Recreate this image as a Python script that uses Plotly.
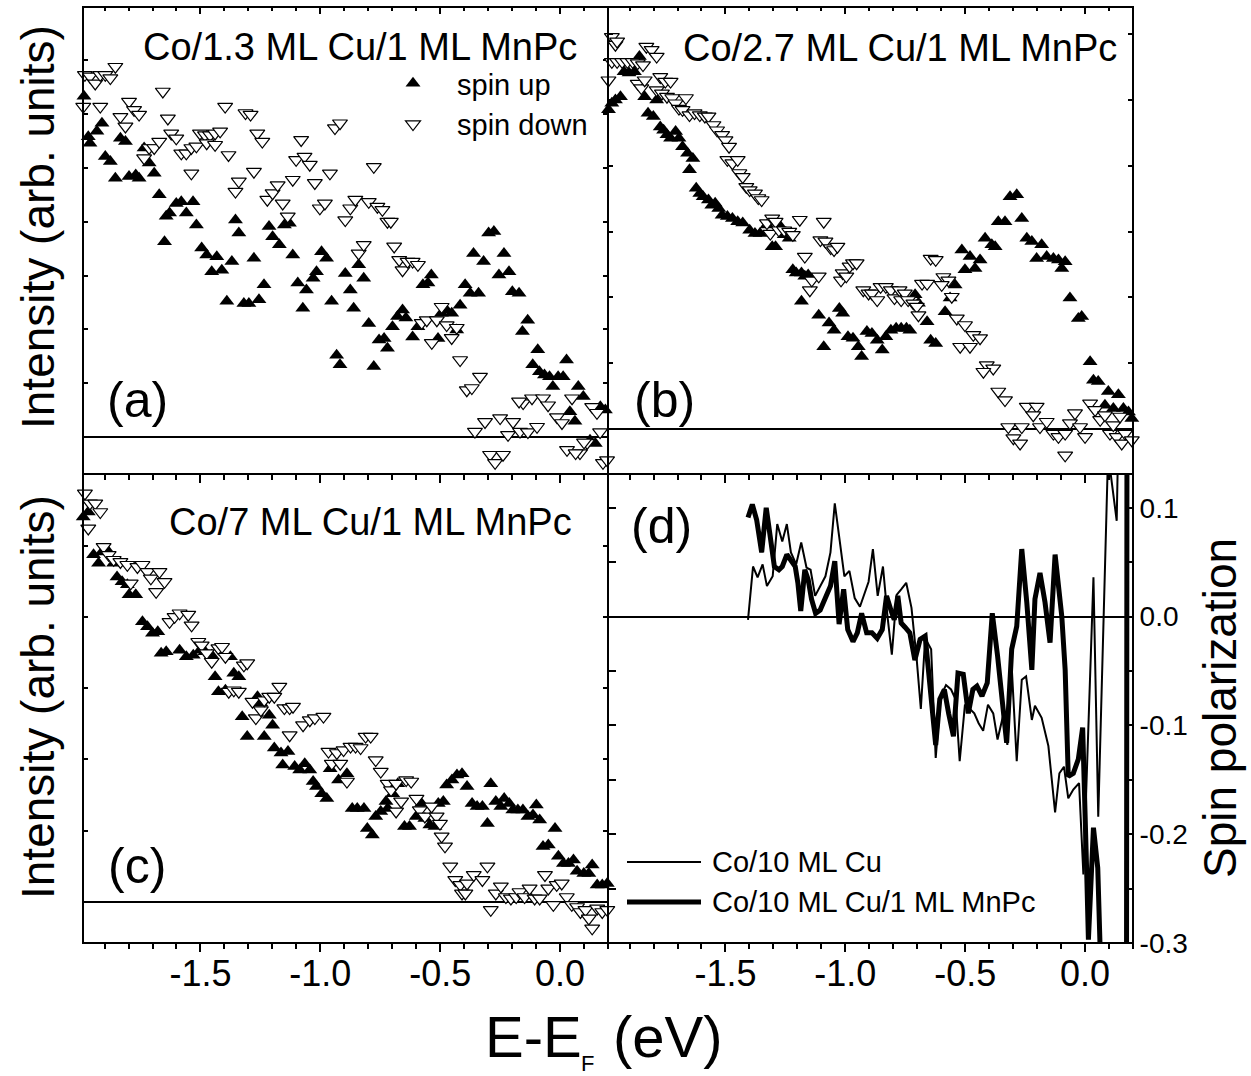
import plotly.graph_objects as go

FONT = "Liberation Sans, Arial, sans-serif"

# ---------------- data: (E - E_F [eV], intensity [arb. units]) ----------------
A_UP = [(-1.986, 6.33), (-1.968, 5.58), (-1.961, 5.46), (-1.932, 5.68), (-1.911, 5.83), (-1.897, 5.21),
        (-1.876, 5.12), (-1.855, 4.81), (-1.834, 5.55), (-1.813, 5.49), (-1.798, 4.84), (-1.770, 4.87),
        (-1.756, 4.81), (-1.735, 5.37), (-1.714, 5.09), (-1.693, 4.90), (-1.672, 4.50), (-1.650, 3.63),
        (-1.643, 4.10), (-1.629, 4.16), (-1.601, 4.34), (-1.580, 4.37), (-1.559, 4.16), (-1.531, 4.37),
        (-1.517, 3.94), (-1.495, 3.51), (-1.474, 3.38), (-1.453, 3.07), (-1.432, 3.35), (-1.411, 3.10),
        (-1.390, 2.52), (-1.369, 3.26), (-1.354, 4.03), (-1.340, 3.79), (-1.319, 2.48), (-1.298, 2.48),
        (-1.277, 3.32), (-1.256, 2.55), (-1.235, 2.83), (-1.214, 3.91), (-1.199, 3.72), (-1.171, 3.57),
        (-1.150, 3.94), (-1.129, 3.97), (-1.115, 3.38), (-1.094, 2.86), (-1.073, 2.39), (-1.058, 2.73),
        (-1.030, 2.95), (-1.016, 3.07), (-0.995, 3.44), (-0.974, 3.32), (-0.953, 2.52), (-0.932, 1.52),
        (-0.918, 1.34), (-0.896, 3.04), (-0.875, 2.73), (-0.861, 2.39), (-0.840, 3.20), (-0.819, 2.95),
        (-0.798, 2.11), (-0.777, 1.31), (-0.755, 1.80), (-0.734, 1.83), (-0.720, 1.65), (-0.699, 2.05),
        (-0.678, 2.24), (-0.657, 2.36), (-0.643, 2.21), (-0.615, 1.86), (-0.593, 2.05), (-0.572, 2.83),
        (-0.551, 2.86), (-0.537, 3.01), (-0.509, 1.83), (-0.495, 2.30), (-0.474, 2.36), (-0.452, 2.30),
        (-0.431, 1.99), (-0.417, 2.45), (-0.396, 2.83), (-0.375, 2.67), (-0.361, 3.41), (-0.340, 2.67),
        (-0.319, 3.26), (-0.298, 3.79), (-0.276, 3.82), (-0.255, 3.01), (-0.234, 3.41), (-0.213, 3.07),
        (-0.199, 2.70), (-0.171, 2.67), (-0.157, 1.96), (-0.135, 2.17), (-0.114, 1.34), (-0.093, 1.62),
        (-0.086, 1.21), (-0.065, 1.15), (-0.044, 1.12), (-0.030, 0.94), (-0.008, 1.12), (0.013, 1.12),
        (0.027, 1.43), (0.041, 0.47), (0.062, 0.29), (0.076, 0.94), (0.097, 0.75), (0.125, -0.06),
        (0.147, -0.12), (0.168, 0.56), (0.189, 0.50)]

A_DOWN = [(-1.982, 6.73), (-1.961, 6.70), (-1.939, 6.57), (-1.918, 6.73), (-1.897, 6.73), (-1.876, 6.67),
          (-1.855, 6.88), (-1.989, 6.14), (-1.918, 6.14), (-1.834, 5.95), (-1.813, 5.77), (-1.798, 6.23),
          (-1.777, 6.08), (-1.756, 5.99), (-1.735, 5.18), (-1.714, 5.37), (-1.693, 5.37), (-1.672, 5.49),
          (-1.657, 6.42), (-1.636, 5.92), (-1.622, 5.64), (-1.601, 5.55), (-1.580, 5.27), (-1.559, 5.27),
          (-1.538, 4.90), (-1.538, 5.37), (-1.517, 5.40), (-1.502, 5.64), (-1.481, 5.61), (-1.460, 5.61),
          (-1.439, 5.64), (-1.418, 5.68), (-1.474, 5.46), (-1.439, 5.43), (-1.397, 6.14), (-1.383, 5.24),
          (-1.354, 4.56), (-1.340, 4.75), (-1.312, 6.02), (-1.291, 5.99), (-1.277, 4.93), (-1.263, 5.64),
          (-1.242, 5.49), (-1.221, 4.41), (-1.199, 4.53), (-1.178, 4.68), (-1.157, 4.34), (-1.136, 4.10),
          (-1.115, 4.78), (-1.101, 5.15), (-1.080, 5.52), (-1.066, 5.21), (-1.044, 5.06), (-1.023, 4.72),
          (-1.002, 4.25), (-0.981, 4.34), (-0.960, 4.90), (-0.939, 5.74), (-0.918, 5.83), (-0.896, 4.03),
          (-0.875, 4.25), (-0.854, 4.41), (-0.840, 3.41), (-0.819, 3.57), (-0.798, 4.37), (-0.777, 5.02),
          (-0.762, 4.28), (-0.741, 4.22), (-0.720, 4.00), (-0.706, 4.00), (-0.692, 3.54), (-0.671, 3.29),
          (-0.657, 3.10), (-0.636, 3.26), (-0.615, 3.26), (-0.593, 3.20), (-0.577, 2.12), (-0.556, 2.17),
          (-0.535, 1.75), (-0.514, 2.17), (-0.494, 2.42), (-0.473, 2.08), (-0.452, 1.84), (-0.431, 2.03),
          (-0.417, 1.43), (-0.389, 0.87), (-0.368, 0.91), (-0.334, 1.12), (-0.355, 0.10), (-0.313, 0.28),
          (-0.250, 0.35), (-0.196, 0.28), (-0.217, 0.04), (-0.167, 0.10), (-0.134, 0.09), (-0.096, 0.19),
          (-0.292, -0.33), (-0.271, -0.48), (-0.238, -0.33), (-0.154, 0.63), (-0.117, 0.72), (-0.071, 0.72),
          (-0.050, 0.59), (-0.013, 0.37), (0.008, 0.26), (0.029, -0.24), (0.050, 0.72), (0.083, -0.30),
          (0.113, -0.11), (0.134, 0.56), (0.154, 0.45), (0.167, 0.09), (0.179, -0.48), (-0.171, 0.66),
          (0.196, -0.43), (0.065, -0.30), (0.100, -0.10)]

B_UP = [(-1.988, 4.85), (-1.974, 4.95), (-1.959, 5.00), (-1.938, 5.05), (-1.923, 5.43), (-1.902, 5.41),
        (-1.880, 5.43), (-1.859, 5.66), (-1.837, 5.05), (-1.823, 4.80), (-1.801, 4.75), (-1.787, 5.00),
        (-1.772, 4.59), (-1.758, 4.54), (-1.744, 4.47), (-1.729, 4.42), (-1.708, 4.52), (-1.694, 4.42),
        (-1.679, 4.29), (-1.658, 4.19), (-1.650, 3.94), (-1.636, 4.11), (-1.622, 3.66), (-1.607, 3.58),
        (-1.593, 3.53), (-1.571, 3.48), (-1.557, 3.40), (-1.543, 3.43), (-1.528, 3.35), (-1.514, 3.25),
        (-1.492, 3.23), (-1.471, 3.20), (-1.449, 3.15), (-1.428, 3.13), (-1.399, 3.02), (-1.377, 2.97),
        (-1.356, 2.97), (-1.327, 3.10), (-1.305, 2.77), (-1.291, 2.77), (-1.269, 3.07), (-1.255, 2.95),
        (-1.234, 2.90), (-1.219, 2.42), (-1.205, 2.37), (-1.183, 2.37), (-1.169, 2.32), (-1.155, 2.34),
        (-1.183, 1.94), (-1.111, 1.73), (-1.090, 1.25), (-1.068, 1.61), (-1.047, 1.50), (-1.025, 1.83),
        (-1.011, 1.76), (-0.989, 1.40), (-0.968, 1.38), (-0.946, 1.25), (-0.932, 1.10), (-0.910, 1.48),
        (-0.889, 1.45), (-0.867, 1.35), (-0.846, 1.20), (-0.831, 1.40), (-0.810, 1.50), (-0.788, 1.53),
        (-0.767, 1.53), (-0.745, 1.53), (-0.731, 1.50), (-0.709, 2.04), (-0.695, 1.91), (-0.659, 1.63),
        (-0.644, 1.35), (-0.623, 1.30), (-0.584, 1.78), (-0.563, 1.99), (-0.542, 2.19), (-0.514, 2.72),
        (-0.501, 2.42), (-0.480, 2.62), (-0.459, 2.44), (-0.438, 2.57), (-0.417, 2.90), (-0.389, 2.80),
        (-0.375, 2.77), (-0.362, 3.15), (-0.334, 3.15), (-0.313, 3.53), (-0.285, 3.56), (-0.264, 3.20),
        (-0.243, 2.90), (-0.222, 2.85), (-0.181, 2.80), (-0.202, 2.59), (-0.160, 2.62), (-0.132, 2.59),
        (-0.111, 2.57), (-0.083, 2.54), (-0.097, 2.44), (-0.063, 1.99), (-0.028, 1.68), (-0.014, 1.71),
        (0.021, 1.02), (0.035, 0.74), (0.055, 0.72), (0.097, 0.57), (0.139, 0.52), (0.083, 0.36),
        (0.118, 0.31), (0.160, 0.31), (0.181, 0.26), (0.195, 0.16)]

B_DOWN = [(-1.988, 5.30), (-1.974, 5.96), (-1.959, 5.84), (-1.952, 5.89), (-1.974, 5.58), (-1.952, 5.58),
          (-1.931, 5.58), (-1.909, 5.58), (-1.887, 5.58), (-1.866, 5.56), (-1.844, 5.53), (-1.830, 5.81),
          (-1.808, 5.76), (-1.787, 5.66), (-1.866, 5.25), (-1.851, 5.18), (-1.837, 5.30), (-1.772, 5.35),
          (-1.751, 5.28), (-1.729, 5.28), (-1.787, 5.15), (-1.765, 5.10), (-1.744, 5.05), (-1.722, 5.03),
          (-1.708, 4.95), (-1.694, 4.87), (-1.679, 4.85), (-1.665, 5.03), (-1.650, 4.77), (-1.629, 4.80),
          (-1.607, 4.77), (-1.586, 4.75), (-1.571, 4.75), (-1.550, 4.62), (-1.535, 4.54), (-1.514, 4.47),
          (-1.500, 4.39), (-1.485, 4.29), (-1.492, 4.09), (-1.471, 4.04), (-1.449, 4.09), (-1.442, 3.89),
          (-1.428, 3.83), (-1.413, 3.68), (-1.399, 3.63), (-1.377, 3.58), (-1.363, 3.51), (-1.349, 3.48),
          (-1.327, 3.13), (-1.305, 3.20), (-1.291, 3.15), (-1.313, 2.97), (-1.277, 3.02), (-1.255, 3.02),
          (-1.234, 3.00), (-1.219, 2.95), (-1.190, 3.18), (-1.169, 2.62), (-1.148, 2.11), (-1.140, 2.26),
          (-1.111, 2.32), (-1.104, 2.87), (-1.090, 3.15), (-1.083, 2.85), (-1.061, 2.75), (-1.047, 2.72),
          (-1.033, 2.77), (-1.018, 2.26), (-1.011, 2.37), (-0.996, 2.32), (-0.982, 2.47), (-0.968, 2.52),
          (-0.953, 2.52), (-0.925, 2.11), (-0.903, 2.06), (-0.889, 2.06), (-0.867, 1.96), (-0.853, 2.16),
          (-0.831, 2.16), (-0.810, 2.11), (-0.795, 1.99), (-0.774, 2.11), (-0.767, 1.96), (-0.752, 2.06),
          (-0.738, 1.96), (-0.716, 1.91), (-0.702, 1.86), (-0.695, 1.73), (-0.680, 2.21), (-0.659, 2.21),
          (-0.644, 2.59), (-0.623, 2.57), (-0.591, 2.31), (-0.570, 2.26), (-0.598, 2.19), (-0.556, 2.01),
          (-0.535, 1.68), (-0.501, 1.58), (-0.466, 1.43), (-0.438, 1.38), (-0.521, 1.25), (-0.480, 1.25),
          (-0.410, 0.97), (-0.383, 0.92), (-0.424, 0.87), (-0.362, 0.57), (-0.334, 0.44), (-0.243, 0.34),
          (-0.202, 0.34), (-0.216, 0.21), (-0.320, 0.03), (-0.264, 0.03), (-0.299, -0.14), (-0.271, -0.22),
          (-0.188, 0.03), (-0.160, 0.11), (-0.132, -0.07), (-0.111, -0.12), (-0.083, -0.07), (-0.063, 0.09),
          (-0.042, 0.24), (-0.021, 0.03), (0.000, -0.12), (-0.083, -0.40), (0.021, 0.39), (0.042, 0.29),
          (0.063, 0.14), (0.083, 0.21), (0.104, -0.07), (0.132, -0.12), (0.153, -0.22), (0.167, -0.07),
          (0.195, -0.17), (0.118, 0.06), (0.146, 0.19)]

C_UP = [(-1.989, 5.40), (-1.968, 5.47), (-1.946, 4.87), (-1.925, 4.75), (-1.911, 4.91), (-1.890, 4.94),
        (-1.862, 4.75), (-1.848, 4.56), (-1.827, 4.49), (-1.805, 4.45), (-1.798, 4.31), (-1.770, 4.31),
        (-1.742, 3.93), (-1.721, 3.86), (-1.700, 3.77), (-1.678, 3.79), (-1.664, 3.49), (-1.643, 3.51),
        (-1.587, 3.53), (-1.559, 3.44), (-1.530, 3.46), (-1.502, 3.53), (-1.481, 3.51), (-1.453, 3.46),
        (-1.439, 3.16), (-1.425, 2.95), (-1.396, 2.97), (-1.375, 3.44), (-1.361, 3.21), (-1.340, 3.16),
        (-1.326, 2.60), (-1.305, 2.32), (-1.262, 2.88), (-1.248, 2.79), (-1.234, 2.32), (-1.213, 2.62),
        (-1.199, 2.48), (-1.192, 2.16), (-1.164, 2.09), (-1.157, 1.92), (-1.135, 2.11), (-1.107, 1.90),
        (-1.086, 1.85), (-1.065, 1.94), (-1.044, 1.85), (-1.030, 1.69), (-1.016, 1.62), (-0.994, 1.52),
        (-0.973, 1.45), (-0.959, 1.87), (-0.924, 1.71), (-0.889, 1.80), (-0.867, 1.31), (-0.846, 1.31),
        (-0.818, 1.31), (-0.804, 1.03), (-0.783, 0.94), (-0.769, 1.20), (-0.748, 1.27), (-0.726, 1.41),
        (-0.719, 1.31), (-0.698, 1.52), (-0.677, 1.66), (-0.649, 1.06), (-0.628, 1.06), (-0.600, 1.20),
        (-0.578, 1.38), (-0.564, 1.17), (-0.543, 1.08), (-0.522, 1.06), (-0.508, 1.38), (-0.487, 1.41),
        (-0.473, 1.64), (-0.451, 1.71), (-0.430, 1.78), (-0.409, 1.80), (-0.388, 1.62), (-0.367, 1.38),
        (-0.346, 1.34), (-0.324, 1.34), (-0.303, 1.10), (-0.289, 1.66), (-0.268, 1.41), (-0.247, 1.34),
        (-0.233, 1.45), (-0.212, 1.38), (-0.197, 1.29), (-0.176, 1.29), (-0.155, 1.29), (-0.134, 1.20),
        (-0.113, 1.22), (-0.099, 1.36), (-0.085, 1.15), (-0.071, 0.78), (-0.049, 0.80), (-0.021, 1.03),
        (-0.007, 0.64), (0.014, 0.54), (0.035, 0.54), (0.056, 0.59), (0.071, 0.43), (0.099, 0.40),
        (0.120, 0.40), (0.134, 0.52), (0.155, 0.24), (0.176, 0.24), (0.197, 0.26)]

C_DOWN = [(-1.982, 5.73), (-1.961, 5.59), (-1.939, 5.59), (-1.918, 5.47), (-1.968, 5.24), (-1.904, 4.98),
          (-1.883, 4.87), (-1.862, 4.80), (-1.834, 4.77), (-1.805, 4.73), (-1.791, 4.47), (-1.763, 4.70),
          (-1.742, 4.73), (-1.721, 4.63), (-1.707, 4.54), (-1.685, 4.35), (-1.671, 4.63), (-1.650, 4.49),
          (-1.629, 3.93), (-1.608, 4.00), (-1.587, 4.05), (-1.551, 4.03), (-1.537, 3.88), (-1.509, 3.65),
          (-1.495, 3.60), (-1.474, 3.49), (-1.453, 3.37), (-1.425, 3.56), (-1.410, 3.58), (-1.396, 3.44),
          (-1.382, 2.95), (-1.361, 2.97), (-1.340, 2.95), (-1.319, 3.32), (-1.305, 3.35), (-1.283, 2.81),
          (-1.269, 2.58), (-1.248, 2.69), (-1.234, 2.83), (-1.213, 2.88), (-1.192, 2.88), (-1.171, 3.02),
          (-1.150, 2.72), (-1.128, 2.72), (-1.114, 2.74), (-1.128, 2.34), (-1.072, 2.48), (-1.044, 2.55),
          (-1.023, 2.58), (-0.987, 2.60), (-0.966, 2.11), (-0.952, 1.94), (-0.931, 2.09), (-0.917, 1.94),
          (-0.903, 2.13), (-0.874, 2.18), (-0.853, 2.18), (-0.832, 2.16), (-0.811, 2.32), (-0.790, 2.32),
          (-0.889, 1.69), (-0.769, 1.99), (-0.748, 1.83), (-0.719, 1.66), (-0.705, 1.57), (-0.684, 1.66),
          (-0.663, 1.41), (-0.642, 1.71), (-0.621, 1.69), (-0.684, 1.27), (-0.599, 1.45), (-0.585, 1.29),
          (-0.564, 1.20), (-0.536, 1.34), (-0.515, 1.20), (-0.501, 1.10), (-0.494, 0.92), (-0.480, 0.78),
          (-0.458, 0.50), (-0.437, 0.31), (-0.416, 0.24), (-0.409, 0.12), (-0.395, 0.12), (-0.388, 0.26),
          (-0.360, 0.38), (-0.324, 0.31), (-0.303, 0.50), (-0.289, -0.11), (-0.268, 0.12), (-0.247, 0.22),
          (-0.226, 0.07), (-0.205, 0.05), (-0.183, 0.07), (-0.169, 0.14), (-0.148, 0.07), (-0.127, 0.19),
          (-0.106, 0.05), (-0.085, 0.05), (-0.063, 0.38), (-0.049, 0.19), (-0.028, -0.04), (-0.014, 0.24),
          (0.007, 0.26), (0.028, 0.07), (0.049, -0.04), (0.071, -0.07), (0.085, -0.14), (0.106, -0.11),
          (0.120, -0.23), (0.134, -0.37), (0.155, -0.09), (0.176, -0.14), (0.197, -0.11)]

# ---------------- data: spin polarization (E - E_F [eV], P) ----------------
POL_CU = [(-1.406, -0.003), (-1.385, 0.046), (-1.366, 0.036), (-1.345, 0.048), (-1.327, 0.028),
          (-1.303, 0.037), (-1.284, 0.085), (-1.263, 0.069), (-1.244, 0.085), (-1.227, 0.059),
          (-1.205, 0.048), (-1.184, 0.068), (-1.162, 0.045), (-1.145, 0.043), (-1.126, 0.019),
          (-1.102, 0.029), (-1.083, 0.037), (-1.062, 0.059), (-1.044, 0.104), (-1.026, 0.074),
          (-1.004, 0.037), (-0.983, 0.042), (-0.961, 0.017), (-0.939, 0.009), (-0.918, 0.023),
          (-0.903, 0.032), (-0.885, 0.062), (-0.865, 0.019), (-0.843, 0.046), (-0.824, 0.000),
          (-0.806, -0.035), (-0.786, 0.020), (-0.767, 0.025), (-0.746, 0.031), (-0.724, 0.008),
          (-0.702, -0.040), (-0.685, -0.085), (-0.667, -0.020), (-0.642, -0.030), (-0.623, -0.130),
          (-0.602, -0.073), (-0.580, -0.063), (-0.559, -0.067), (-0.540, -0.076), (-0.523, -0.133),
          (-0.501, -0.081), (-0.480, -0.085), (-0.462, -0.089), (-0.444, -0.098), (-0.425, -0.105),
          (-0.405, -0.081), (-0.383, -0.089), (-0.365, -0.113), (-0.343, -0.092), (-0.324, -0.118),
          (-0.306, -0.046), (-0.285, -0.133), (-0.264, -0.058), (-0.246, -0.055), (-0.222, -0.095),
          (-0.209, -0.082), (-0.181, -0.093), (-0.153, -0.119), (-0.125, -0.180), (-0.107, -0.144),
          (-0.088, -0.138), (-0.070, -0.167), (-0.049, -0.159), (-0.025, -0.153), (-0.007, -0.237),
          (0.035, 0.036), (0.055, -0.184), (0.096, 0.150), (0.132, 0.088), (0.150, 0.300)]

POL_MNPC = [(-1.406, 0.091), (-1.388, 0.103), (-1.370, 0.089), (-1.349, 0.059), (-1.330, 0.100),
            (-1.313, 0.074), (-1.296, 0.046), (-1.277, 0.043), (-1.263, 0.046), (-1.244, 0.057),
            (-1.227, 0.052), (-1.209, 0.046), (-1.198, 0.031), (-1.186, 0.005), (-1.169, 0.043),
            (-1.155, 0.034), (-1.141, 0.016), (-1.124, 0.003), (-1.105, 0.006), (-1.084, 0.016),
            (-1.062, 0.028), (-1.044, 0.051), (-1.026, -0.007), (-1.007, 0.025), (-0.990, -0.012),
            (-0.968, -0.023), (-0.950, -0.015), (-0.932, 0.003), (-0.911, -0.015), (-0.889, -0.015),
            (-0.867, -0.020), (-0.846, -0.012), (-0.828, 0.019), (-0.810, 0.006), (-0.796, -0.003),
            (-0.781, 0.019), (-0.767, -0.006), (-0.750, -0.010), (-0.731, -0.015), (-0.710, -0.040),
            (-0.688, -0.021), (-0.667, -0.018), (-0.645, -0.067), (-0.623, -0.118), (-0.606, -0.076),
            (-0.587, -0.067), (-0.569, -0.089), (-0.549, -0.110), (-0.530, -0.052), (-0.508, -0.053),
            (-0.487, -0.089), (-0.468, -0.067), (-0.451, -0.064), (-0.430, -0.073), (-0.408, -0.061),
            (-0.387, 0.003), (-0.365, -0.036), (-0.343, -0.085), (-0.327, -0.116), (-0.306, -0.030),
            (-0.285, -0.009), (-0.264, 0.062), (-0.243, 0.013), (-0.222, -0.049), (-0.209, 0.016),
            (-0.188, 0.040), (-0.167, 0.013), (-0.146, -0.024), (-0.125, 0.057), (-0.097, 0.000),
            (-0.083, -0.049), (-0.070, -0.147), (-0.049, -0.144), (-0.028, -0.131), (-0.010, -0.102),
            (0.007, -0.236), (0.014, -0.297), (0.035, -0.194), (0.053, -0.231), (0.063, -0.306),
            (0.090, -0.600), (0.172, -0.600), (0.176, 0.500)]

# ---------------- axis settings ----------------
E_RANGE = [-1.99, 0.2]
E_TICKS = [-1.5, -1.0, -0.5, 0.0]
E_TICK_TEXT = ["-1.5", "-1.0", "-0.5", "0.0"]
P_RANGE = [-0.3, 0.131]
P_TICKS = [0.1, 0.0, -0.1, -0.2, -0.3]
P_TICK_TEXT = ["0.1", "0.0", "-0.1", "-0.2", "-0.3"]
I_RANGE_A = [-0.688, 7.99]
I_RANGE_B = [-0.684, 6.413]
I_RANGE_C = [-0.575, 6.003]

PANEL_TITLES = ["Co/1.3 ML Cu/1 ML MnPc", "Co/2.7 ML Cu/1 ML MnPc", "Co/7 ML Cu/1 ML MnPc"]
PANEL_TAGS = ["(a)", "(b)", "(c)", "(d)"]
LINE_NAMES = ["Co/10 ML Cu", "Co/10 ML Cu/1 ML MnPc"]

W, H = 1251, 1076
ML, MR, MT, MB = 83, 118, 7, 133
PW, PH = W - ML - MR, H - MT - MB
SPLIT = (943 - 474) / PH


def px(x):
    return (x - ML) / PW


def py(y):
    return (H - MB - y) / PH


fig = go.Figure()


def add_spin(up, down, xa, ya, legend=False):
    fig.add_trace(go.Scatter(
        x=[e for e, _ in up], y=[v for _, v in up], mode="markers",
        xaxis=xa, yaxis=ya, name="spin up", showlegend=legend, cliponaxis=False,
        marker=dict(symbol="triangle-up", size=13, color="black", line=dict(width=0))))
    fig.add_trace(go.Scatter(
        x=[e for e, _ in down], y=[v for _, v in down], mode="markers",
        xaxis=xa, yaxis=ya, name="spin down", showlegend=legend, cliponaxis=False,
        marker=dict(symbol="triangle-down", size=13, color="white",
                    line=dict(color="black", width=1.2))))


add_spin(A_UP, A_DOWN, "x", "y", legend=True)
add_spin(B_UP, B_DOWN, "x2", "y2")
add_spin(C_UP, C_DOWN, "x3", "y3")

fig.add_trace(go.Scatter(x=[e for e, _ in POL_CU], y=[p for _, p in POL_CU], mode="lines",
                         xaxis="x4", yaxis="y4", showlegend=False, name=LINE_NAMES[0],
                         line=dict(color="black", width=2)))
fig.add_trace(go.Scatter(x=[e for e, _ in POL_MNPC], y=[p for _, p in POL_MNPC], mode="lines",
                         xaxis="x4", yaxis="y4", showlegend=False, name=LINE_NAMES[1],
                         line=dict(color="black", width=5)))

tick_font = dict(family=FONT, size=36, color="black")


def x_bottom(domain, labels):
    return dict(domain=domain, range=E_RANGE, showline=True, linecolor="black", linewidth=1,
                mirror=True, showgrid=False, zeroline=False,
                tickmode="array", tickvals=E_TICKS, ticktext=E_TICK_TEXT,
                ticks="outside", ticklen=8, tickwidth=1.5, tickcolor="black",
                minor=dict(tickmode="linear", tick0=0, dtick=0.1, ticks="outside",
                           ticklen=5, tickwidth=1.5, tickcolor="black"),
                showticklabels=labels, tickfont=tick_font, ticklabelstandoff=-9)


def x_top(over, anchor):
    return dict(overlaying=over, anchor=anchor, side="top", range=E_RANGE, showline=False,
                showgrid=False, zeroline=False, tickmode="array", tickvals=E_TICKS,
                ticks="inside", ticklen=7, tickwidth=1.5, tickcolor="black",
                minor=dict(tickmode="linear", tick0=0, dtick=0.1, ticks="inside",
                           ticklen=4, tickwidth=1.5, tickcolor="black"),
                showticklabels=False)


def y_int(domain, rng, anchor):
    return dict(domain=domain, range=rng, anchor=anchor, showline=True, linecolor="black",
                linewidth=1, mirror="ticks", showgrid=False, zeroline=True,
                zerolinecolor="black", zerolinewidth=2, tick0=0, dtick=1,
                ticks="inside", ticklen=5, tickwidth=1.5, tickcolor="black",
                showticklabels=False)


fig.update_layout(
    width=W, height=H, margin=dict(l=ML, r=MR, t=MT, b=MB, pad=0),
    plot_bgcolor="white", paper_bgcolor="white",
    font=dict(family=FONT, color="black"),
    xaxis=dict(x_bottom([0, 0.5], False), anchor="y"),
    xaxis2=dict(x_bottom([0.5, 1], False), anchor="y2"),
    xaxis3=dict(x_bottom([0, 0.5], True), anchor="y3"),
    xaxis4=dict(x_bottom([0.5, 1], True), anchor="y4"),
    xaxis5=x_top("x", "y"),
    xaxis6=x_top("x2", "y2"),
    xaxis7=x_top("x3", "y3"),
    xaxis8=x_top("x4", "y4"),
    yaxis=y_int([SPLIT, 1], I_RANGE_A, "x"),
    yaxis2=y_int([SPLIT, 1], I_RANGE_B, "x2"),
    yaxis3=y_int([0, SPLIT], I_RANGE_C, "x3"),
    yaxis4=dict(domain=[0, SPLIT], range=P_RANGE, anchor="x4", side="right",
                showline=True, linecolor="black", linewidth=1, mirror="ticks",
                showgrid=False, zeroline=True, zerolinecolor="black", zerolinewidth=2,
                tickmode="array", tickvals=P_TICKS, ticktext=P_TICK_TEXT,
                ticks="inside", ticklen=8, tickwidth=1.5, tickcolor="black",
                minor=dict(tickmode="linear", tick0=0, dtick=0.05, ticks="inside",
                           ticklen=8, tickwidth=1.5, tickcolor="black"),
                tickfont=dict(family=FONT, size=28, color="black")),
    legend=dict(x=px(369), y=py(58), xanchor="left", yanchor="top", itemwidth=78,
                bgcolor="rgba(0,0,0,0)", borderwidth=0,
                font=dict(family=FONT, size=29, color="black"), tracegroupgap=0),
)

# empty traces so the overlay axes are drawn
for xa, ya in (("x5", "y"), ("x6", "y2"), ("x7", "y3"), ("x8", "y4")):
    fig.add_trace(go.Scatter(x=[], y=[], xaxis=xa, yaxis=ya, showlegend=False))

ann = []


def text(x, y, s, size, xanchor="center", **kw):
    d = dict(x=px(x), y=py(y), xref="paper", yref="paper", text=s, showarrow=False,
             xanchor=xanchor, yanchor="middle",
             font=dict(family=FONT, size=size, color="black"))
    d.update(kw)
    ann.append(d)


# panel titles and tags
text(360, 47, PANEL_TITLES[0], 38)
text(900, 48, PANEL_TITLES[1], 38)
text(370, 522, PANEL_TITLES[2], 38)
text(137, 400, PANEL_TAGS[0], 50)
text(664, 400, PANEL_TAGS[1], 50)
text(137, 866, PANEL_TAGS[2], 50)
text(661, 526, PANEL_TAGS[3], 50)

# axis titles
text(38, 227, "Intensity (arb. units)", 46, textangle=-90)
text(38, 697, "Intensity (arb. units)", 46, textangle=-90)
text(1220, 708, "Spin polarization", 46, textangle=-90)
text(483, 1036, "E-E", 58, xanchor="left")
text(579, 1063, "F", 22, xanchor="left")
text(611, 1036, "(eV)", 58, xanchor="left")

# legend of panel (d)
text(710, 862, LINE_NAMES[0], 29, xanchor="left")
text(710, 902, LINE_NAMES[1], 29, xanchor="left")
shapes = [
    dict(type="line", xref="paper", yref="paper", x0=px(627), x1=px(701), y0=py(862), y1=py(862),
         line=dict(color="black", width=2)),
    dict(type="line", xref="paper", yref="paper", x0=px(627), x1=px(701), y0=py(902), y1=py(902),
         line=dict(color="black", width=5)),
]
# panel frames
for xa, ya in (("x", "y"), ("x2", "y2"), ("x3", "y3"), ("x4", "y4")):
    shapes.append(dict(type="rect", xref=f"{xa} domain", yref=f"{ya} domain",
                       x0=0, x1=1, y0=0, y1=1, layer="above",
                       line=dict(color="black", width=2)))

fig.update_layout(annotations=ann, shapes=shapes)
fig.write_html("out.html")
